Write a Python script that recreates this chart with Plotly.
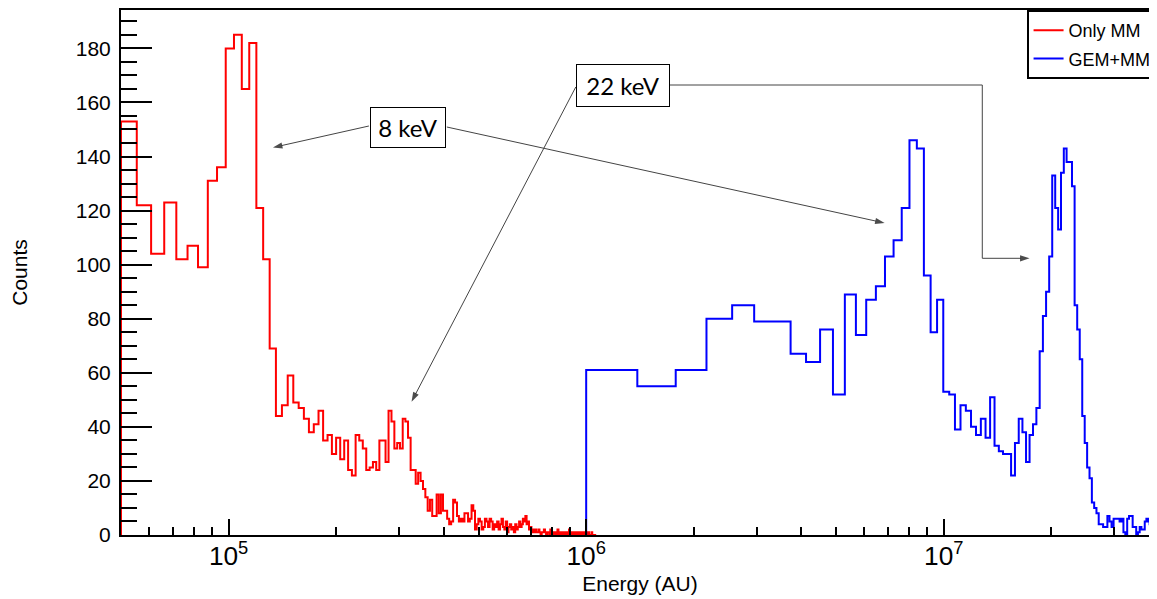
import numpy as np
import plotly.graph_objects as go

# ---------------- data ----------------
# "Only MM": uniform linear bins starting at 5e4
red_start = 5.0e4
red_bin_width = 5.35e3
red_counts = [
    153, 122, 104, 123, 102, 107, 99, 131, 136, 180,
    185, 165, 182, 121, 102, 69, 44, 48, 59, 49,
    47, 43, 38, 41, 46, 35, 37, 30, 36, 28,
    35, 24, 22, 37, 35, 32, 24, 25, 27, 24,
    35, 35, 27, 46, 42, 32, 34, 32, 43, 42,
    36, 24, 24, 19, 23, 20, 17, 14, 9, 13,
    7, 7, 15, 8, 15, 9, 9, 6, 4, 5,
    13, 12, 7, 5, 6, 5, 8, 8, 5, 6,
    11, 9, 2, 4, 6, 5, 2, 3, 6, 5,
    3, 6, 5, 2, 4, 3, 5, 2, 4, 6,
    3, 2, 5, 1, 3, 4, 2, 3, 1, 4,
    2, 3, 5, 3, 4, 6, 5, 7, 4, 5,
    2, 3, 1, 2, 1, 2, 1, 1, 2, 1,
    0, 1, 1, 2, 1, 0, 1, 1, 0, 2,
    1, 0, 1, 1, 0, 1, 2, 0, 1, 0,
    1, 0, 1, 1, 0, 0, 1, 0, 2, 0,
    1, 0, 0, 1, 0, 1, 0, 0, 1, 0,
    0, 1, 0, 0, 1, 0, 0, 1, 0, 0,
    1, 0, 0, 0, 1, 0, 0, 0, 0, 0,
]

# "GEM+MM": 100 uniform linear bins from 1e6 to 4e7
blue_start = 1.0e6
blue_bin_width = 0.39e6
blue_counts = [
    61, 55, 61, 80, 85, 79, 79, 67, 64, 76,
    52, 89, 74, 87, 92, 103, 109, 121, 146, 143,
    96, 75, 87, 53, 52, 39, 48, 46, 40, 37,
    43, 36, 51, 33, 31, 30, 30, 22, 34, 43,
    38, 27, 37, 41, 47, 68, 81, 90, 103, 133,
    121, 113, 134, 143, 138, 138, 129, 85, 76, 65,
    44, 34, 25, 21, 12, 10, 8, 4, 4, 3,
    3, 7, 5, 3, 6, 6, 6, 5, 6, 1,
    0, 6, 7, 7, 3, 3, 0, 1, 3, 2,
    2, 5, 6, 5, 4, 3, 4, 2, 5, 3,
]

series_names = ["Only MM", "GEM+MM"]
series_colors = ["#ff0000", "#0000ff"]

annotation_labels = ["8 keV", "22 keV"]

x_min, x_max = 5.0e4, 4.0e7
y_max = 194.2

# ---------------- geometry helpers ----------------
FIG_W, FIG_H = 1157, 599
PAGE_OFF = 8  # default page margin of the html body
M_L, M_R, M_T, M_B = 113, 5.5, 2, 72
PLOT_W = FIG_W - M_L - M_R
PLOT_H = FIG_H - M_T - M_B
PLOT_X0 = M_L + PAGE_OFF            # screen x of the plot's left edge
PLOT_Y1 = FIG_H - M_B + PAGE_OFF    # screen y of the plot's bottom edge
LOG_SPAN = np.log10(x_max) - np.log10(x_min)


def px_to_paper_x(px):
    return (px - PLOT_X0) / PLOT_W


def py_to_paper_y(py):
    return (PLOT_Y1 - py) / PLOT_H


def px_to_energy(px):
    return 10 ** (np.log10(x_min) + (px - PLOT_X0) / PLOT_W * LOG_SPAN)


def py_to_counts(py):
    return (PLOT_Y1 - py) / PLOT_H * y_max


def step_xy(start, width, counts):
    counts = np.asarray(counts, dtype=float)
    edges = start + width * np.arange(len(counts) + 1)
    x = np.concatenate([[edges[0]], edges])
    y = np.concatenate([[0.0], counts, [counts[-1]]])
    return x, y


fig = go.Figure()

for i, (start, width, counts) in enumerate(
    [(red_start, red_bin_width, red_counts), (blue_start, blue_bin_width, blue_counts)]
):
    x, y = step_xy(start, width, counts)
    fig.add_trace(
        go.Scatter(
            x=x,
            y=y,
            mode="lines",
            line=dict(color=series_colors[i], width=2, shape="hv"),
            name=series_names[i],
            legendgroup=series_names[i],
            hoverinfo="skip",
        )
    )

# arrows (screen-pixel polylines, converted to data units); last point is the tip
arrow_paths = [
    [(369, 126), (273, 147.5)],                              # 8 keV -> red peak
    [(447, 127), (885, 223)],                                # 8 keV -> blue peak
    [(576, 87), (411.7, 401.7)],                             # 22 keV -> red bump
    [(670, 85), (982.7, 85), (982.7, 258.3), (1030, 258.3)], # 22 keV -> blue peak
]
for path in arrow_paths:
    xs = [px_to_energy(p[0]) for p in path]
    ys = [py_to_counts(p[1]) for p in path]
    sizes = [0] * (len(path) - 1) + [10]
    fig.add_trace(
        go.Scatter(
            x=xs,
            y=ys,
            mode="lines+markers",
            line=dict(color="#444444", width=1),
            marker=dict(symbol="arrow", angleref="previous", size=sizes,
                        color="black", line=dict(width=0)),
            showlegend=False,
            hoverinfo="skip",
        )
    )

tick_font = dict(family="Liberation Sans, Arial, sans-serif", size=21, color="black")

fig.update_layout(
    width=FIG_W,
    height=FIG_H,
    margin=dict(l=M_L, r=M_R, t=M_T, b=M_B, autoexpand=False),
    paper_bgcolor="white",
    plot_bgcolor="white",
    showlegend=True,
    legend=dict(
        x=px_to_paper_x(1027),
        y=1.0,
        xanchor="left",
        yanchor="top",
        bgcolor="white",
        bordercolor="black",
        borderwidth=2,
        font=dict(family="Liberation Sans, Arial, sans-serif", size=18, color="black"),
        itemwidth=30,
        traceorder="grouped",
        tracegroupgap=2,
    ),
    xaxis=dict(
        type="log",
        range=[np.log10(x_min), np.log10(x_max)],
        showline=True,
        linecolor="black",
        linewidth=2,
        mirror=True,
        showgrid=False,
        zeroline=False,
        ticks="inside",
        ticklen=16,
        tickwidth=2,
        tickcolor="black",
        dtick=1,
        exponentformat="power",
        showexponent="all",
        tickfont=tick_font,
        ticklabelstandoff=-2,
        minor=dict(ticks="inside", ticklen=8, tickwidth=2, tickcolor="black",
                   dtick="D1", showgrid=False),
        title=dict(text="Energy (AU)", font=tick_font, standoff=6),
    ),
    yaxis=dict(
        range=[0, y_max],
        showline=True,
        linecolor="black",
        linewidth=2,
        mirror=False,
        showgrid=False,
        zeroline=False,
        ticks="inside",
        ticklen=31,
        tickwidth=2,
        tickcolor="black",
        dtick=20,
        tick0=0,
        tickfont=tick_font,
        ticklabelstandoff=4,
        minor=dict(ticks="inside", ticklen=16, tickwidth=2, tickcolor="black",
                   dtick=5, showgrid=False),
        title=dict(text="Counts", font=tick_font, standoff=42),
    ),
)

label_font = dict(family="Lato, Open Sans, sans-serif", size=24, color="black")

# label boxes
fig.add_annotation(
    xref="paper", yref="paper",
    x=px_to_paper_x(408), y=py_to_paper_y(127.5),
    xanchor="center", yanchor="middle",
    text=annotation_labels[0], showarrow=False,
    font=label_font, bgcolor="white", bordercolor="black", borderwidth=1,
    borderpad=5, width=64, height=29,
)
fig.add_annotation(
    xref="paper", yref="paper",
    x=px_to_paper_x(623), y=py_to_paper_y(85),
    xanchor="center", yanchor="middle",
    text=annotation_labels[1], showarrow=False,
    font=label_font, bgcolor="white", bordercolor="black", borderwidth=1,
    borderpad=6, width=80, height=29,
)

fig.write_html("out.html")
